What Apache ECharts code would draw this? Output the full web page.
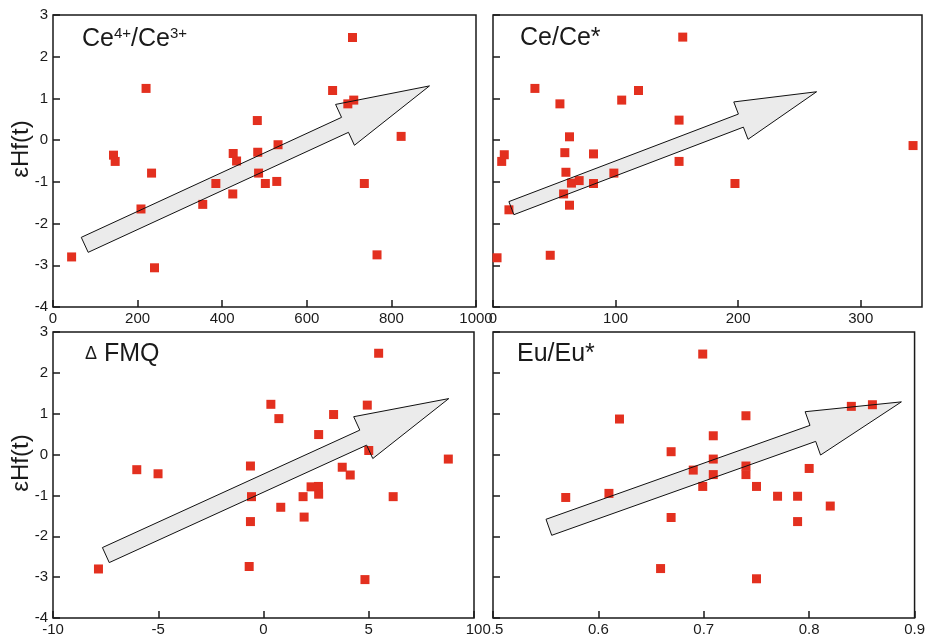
<!DOCTYPE html>
<html>
<head>
<meta charset="utf-8">
<script src="https://cdn.jsdelivr.net/npm/echarts@6/dist/echarts.min.js"></script>
<style>
  html, body { margin: 0; padding: 0; background: #fff; }
  #chart { width: 928px; height: 637px; }
</style>
</head>
<body>
<div id="chart"></div>
<script>
// values (x, eHf(t))
const ceRatio = [44, 220, 143, 147, 233, 208, 240, 354, 385, 426, 434, 425, 483, 484, 486, 502, 532, 529, 661, 697, 711, 708, 736, 823, 766];
const ceRatioHf = [-2.80, 1.24, -0.36, -0.51, -0.79, -1.65, -3.06, -1.54, -1.04, -0.32, -0.50, -1.29, 0.47, -0.29, -0.79, -1.04, -0.11, -0.99, 1.19, 0.87, 0.96, 2.46, -1.04, 0.09, -2.75];

const ceAnomaly = [154.8, 34.2, 118.7, 54.6, 105, 151.8, 62.4, 9.2, 7.1, 58.6, 82, 59.5, 98.6, 151.8, 64, 70.3, 82, 57.6, 62.4, 13, 3.3, 46.7, 197.4, 342.7];
const ceAnomalyHf = [2.47, 1.24, 1.19, 0.87, 0.96, 0.48, 0.08, -0.35, -0.51, -0.30, -0.33, -0.77, -0.79, -0.51, -1.03, -0.97, -1.04, -1.29, -1.56, -1.67, -2.82, -2.76, -1.04, -0.13];

const fmq = [5.47, 0.35, 0.73, 3.33, 4.93, 2.62, 5.0, 8.78, -6.02, -5.01, -0.62, 3.74, 4.12, -0.57, 2.26, 2.61, 2.62, 1.88, 0.82, 1.93, -0.62, 6.16, -7.84, -0.68, 4.82];
const fmqHf = [2.48, 1.23, 0.88, 0.98, 1.21, 0.49, 0.10, -0.11, -0.37, -0.47, -0.28, -0.31, -0.50, -1.03, -0.79, -0.78, -0.97, -1.03, -1.29, -1.53, -1.64, -1.03, -2.80, -2.74, -3.06];

const euAnomaly = [0.699, 0.62, 0.74, 0.84, 0.86, 0.709, 0.669, 0.709, 0.69, 0.74, 0.74, 0.709, 0.699, 0.75, 0.80, 0.569, 0.61, 0.77, 0.789, 0.82, 0.669, 0.789, 0.659, 0.75];
const euAnomalyHf = [2.46, 0.87, 0.95, 1.18, 1.22, 0.46, 0.07, -0.11, -0.38, -0.28, -0.49, -0.49, -0.78, -0.78, -0.34, -1.05, -0.95, -1.02, -1.02, -1.26, -1.54, -1.64, -2.79, -3.04];

// trend arrows: [xTail, yTail, xTip, yTip] in data units
const arrowCeRatio = [75, -2.51, 890, 1.30];
const arrowCeAnomaly = [15, -1.63, 264, 1.16];
const arrowFmq = [-7.49, -2.46, 8.80, 1.37];
const arrowEu = [0.553, -1.78, 0.8875, 1.29];

const panelTitles = ["Ce{sup|4+}/Ce{sup|3+}", "Ce/Ce*", "{d|Δ} FMQ", "Eu/Eu*"];
const yLabel = "εHf(t)";

const font = "'Liberation Sans', Arial, sans-serif";
const ink = "#1a1a1a";
const red = "#e3301f";

const grids = [
  { left: 53, top: 15, width: 423, height: 292 },
  { left: 493, top: 15, width: 429, height: 292 },
  { left: 53, top: 332, width: 421, height: 291 },
  { left: 493, top: 332, width: 429, height: 291 }
];
const xRanges = [
  { min: 0, max: 1000, interval: 200 },
  { min: 0, max: 350, interval: 100 },
  { min: -10, max: 10, interval: 5 },
  { min: 0.5, max: 0.9, interval: 0.1 }
];
// shaft width, head width, head length (px)
const arrowSizes = [[16.5, 45, 93], [14, 40, 81], [16.5, 46, 94], [17, 46, 94]];
const points = [
  [ceRatio, ceRatioHf],
  [ceAnomaly, ceAnomalyHf],
  [fmq, fmqHf],
  [euAnomaly, euAnomalyHf]
];
const arrows = [arrowCeRatio, arrowCeAnomaly, arrowFmq, arrowEu];
const titlePos = [[82, 26], [520, 26], [85, 342], [517, 342]];

function arrowRender(sizes, filled) {
  return function (params, api) {
    const p0 = api.coord([api.value(0), api.value(1)]);
    const p1 = api.coord([api.value(2), api.value(3)]);
    const dx = p1[0] - p0[0], dy = p1[1] - p0[1];
    const len = Math.sqrt(dx * dx + dy * dy);
    const ux = dx / len, uy = dy / len;
    const nx = -uy, ny = ux;
    const sw = sizes[0] / 2, hw = sizes[1] / 2, hl = sizes[2];
    const bx = p1[0] - ux * hl, by = p1[1] - uy * hl;
    const pts = [
      [p0[0] + nx * sw, p0[1] + ny * sw],
      [bx + nx * sw, by + ny * sw],
      [bx + nx * hw, by + ny * hw],
      [p1[0], p1[1]],
      [bx - nx * hw, by - ny * hw],
      [bx - nx * sw, by - ny * sw],
      [p0[0] - nx * sw, p0[1] - ny * sw]
    ];
    return {
      type: "polygon",
      shape: { points: pts },
      style: filled
        ? { fill: "#ebebeb", stroke: "none" }
        : { fill: "none", stroke: "#111", lineWidth: 1 }
    };
  };
}

const myChart = echarts.init(document.getElementById("chart"));

const option = {
  backgroundColor: "#fff",
  animation: false,
  title: panelTitles.map((t, i) => ({
    text: t,
    left: titlePos[i][0],
    top: titlePos[i][1],
    padding: 0,
    textStyle: {
      fontFamily: font,
      fontSize: 25,
      fontWeight: "normal",
      color: ink,
      rich: {
        sup: { fontFamily: font, fontSize: 15, color: ink, verticalAlign: "top", padding: [0, 0, 12, 0] },
        d: { fontFamily: font, fontSize: 18, color: ink }
      }
    }
  })),
  grid: grids.map(g => Object.assign({ show: true, borderColor: ink, borderWidth: 1.5, backgroundColor: "transparent" }, g)),
  xAxis: xRanges.map((r, i) => ({
    type: "value",
    gridIndex: i,
    min: r.min,
    max: r.max,
    interval: r.interval,
    axisLine: { show: false, onZero: false },
    axisTick: { show: true, inside: true, length: 7, lineStyle: { color: ink, width: 1.5 } },
    splitLine: { show: false },
    axisLabel: {
      margin: 4,
      fontFamily: font,
      fontSize: 15,
      color: ink,
      showMaxLabel: i !== 1,
      formatter: v => (i === 3 ? v.toFixed(1) : String(Math.round(v)))
    }
  })),
  yAxis: grids.map((g, i) => ({
    type: "value",
    gridIndex: i,
    min: -4,
    max: 3,
    interval: 1,
    name: i % 2 === 0 ? yLabel : "",
    nameLocation: "middle",
    nameGap: 20,
    nameMoveOverlap: false,
    nameTextStyle: { fontFamily: font, fontSize: 24, color: ink, padding: [0, 0, 0, 24] },
    axisLine: { show: false, onZero: false },
    axisTick: { show: true, inside: true, length: 7, lineStyle: { color: ink, width: 1.5 } },
    splitLine: { show: false },
    axisLabel: {
      show: i % 2 === 0,
      margin: 5,
      fontFamily: font,
      fontSize: 15,
      color: ink
    }
  })),
  series: []
};

points.forEach((p, i) => {
  option.series.push({
    type: "custom",
    xAxisIndex: i,
    yAxisIndex: i,
    z: 1,
    silent: true,
    renderItem: arrowRender(arrowSizes[i], true),
    encode: { x: [0, 2], y: [1, 3] },
    data: [arrows[i]]
  });
  option.series.push({
    type: "scatter",
    xAxisIndex: i,
    yAxisIndex: i,
    z: 2,
    symbol: "rect",
    symbolSize: 9,
    itemStyle: { color: red, opacity: 1 },
    data: p[0].map((x, k) => [x, p[1][k]])
  });
  option.series.push({
    type: "custom",
    xAxisIndex: i,
    yAxisIndex: i,
    z: 3,
    silent: true,
    renderItem: arrowRender(arrowSizes[i], false),
    encode: { x: [0, 2], y: [1, 3] },
    data: [arrows[i]]
  });
});

myChart.setOption(option);
</script>
</body>
</html>
